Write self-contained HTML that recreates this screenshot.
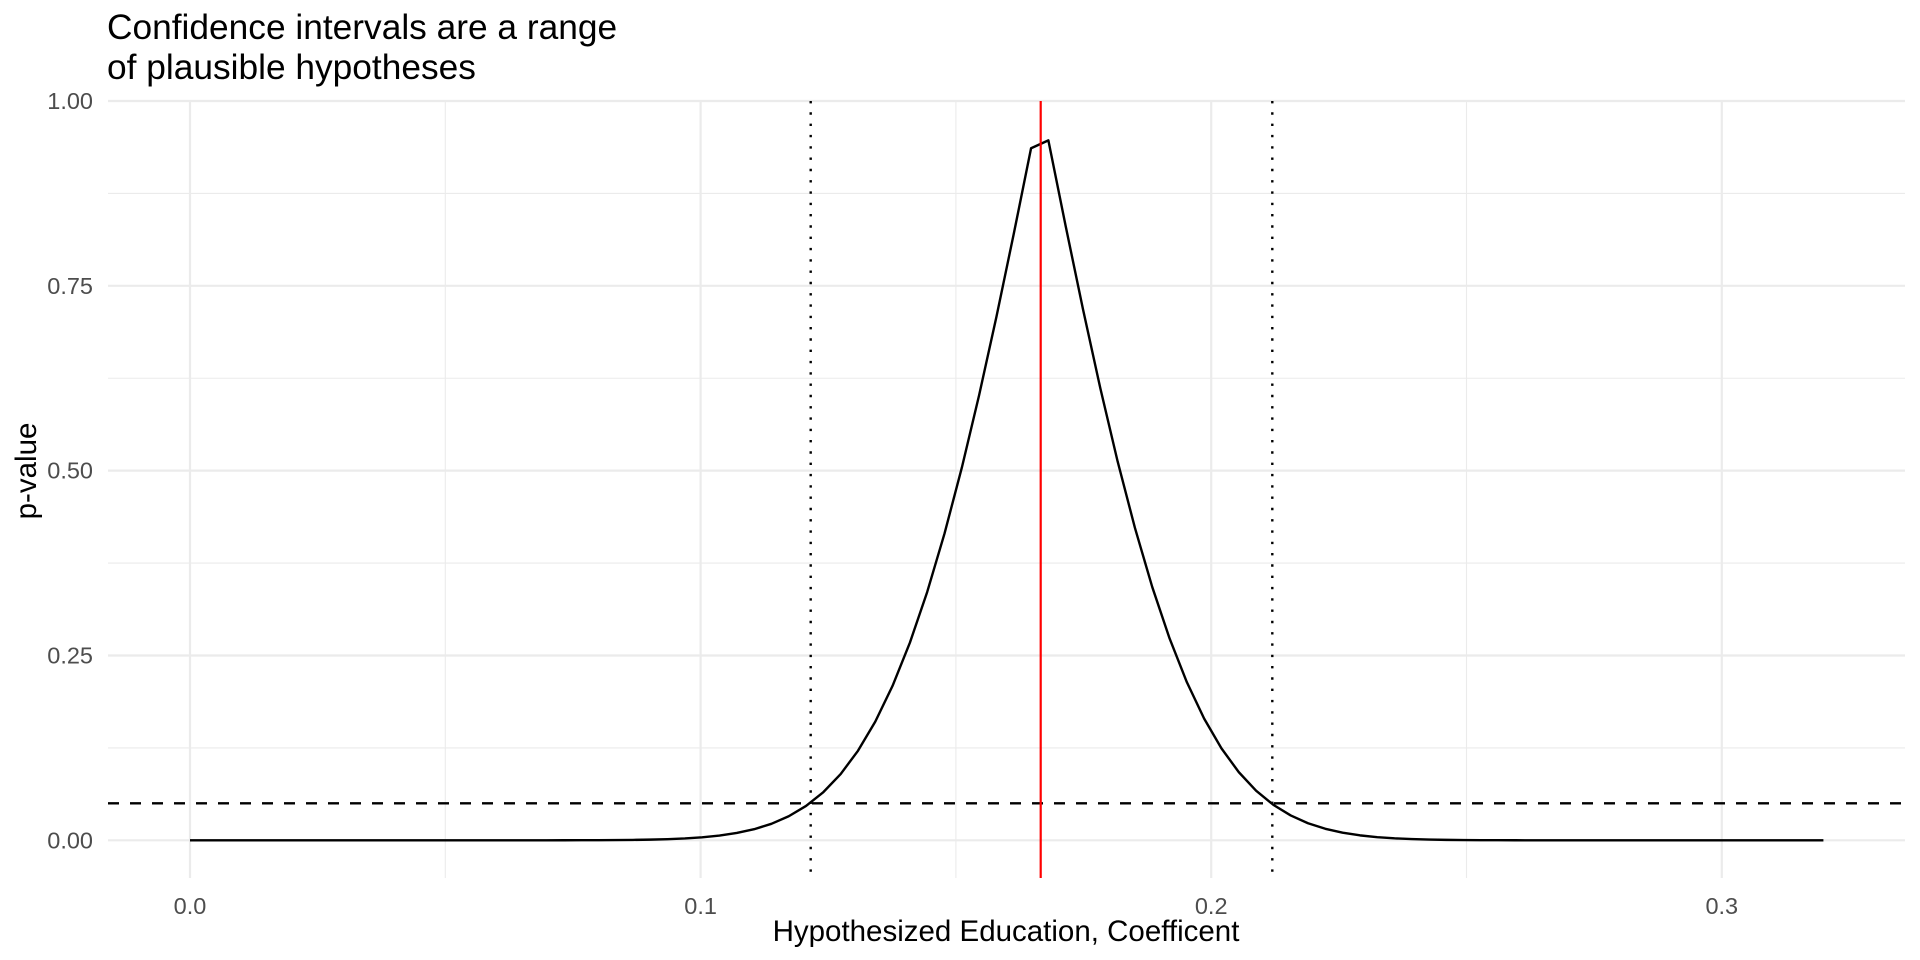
<!DOCTYPE html>
<html><head><meta charset="utf-8"><style>
html,body{margin:0;padding:0;background:#fff;}
svg{display:block;font-family:"Liberation Sans",Arial,sans-serif;}
</style></head><body>
<svg id="s" width="1920" height="960" viewBox="0 0 1920 960" xmlns="http://www.w3.org/2000/svg">
<g id="grid"></g>
<text x="107" y="39" font-size="35.3" fill="#000">Confidence intervals are a range</text>
<text x="107" y="79" font-size="35.3" fill="#000">of plausible hypotheses</text>
<g font-size="23.5" fill="#4d4d4d" text-anchor="end">
<text x="93" y="109">1.00</text>
<text x="93" y="293.8">0.75</text>
<text x="93" y="478.7">0.50</text>
<text x="93" y="663.5">0.25</text>
<text x="93" y="848.3">0.00</text>
</g>
<g font-size="23.5" fill="#4d4d4d" text-anchor="middle">
<text x="190" y="914">0.0</text>
<text x="700.6" y="914">0.1</text>
<text x="1211.2" y="914">0.2</text>
<text x="1721.8" y="914">0.3</text>
</g>
<text x="1006" y="941" font-size="29.5" text-anchor="middle" fill="#000">Hypothesized Education, Coefficent</text>
<text transform="translate(36,471) rotate(-90)" font-size="29.5" text-anchor="middle" fill="#000">p-value</text>
<g id="data"></g>
</svg>
<script>
var NS="http://www.w3.org/2000/svg";
function X(v){return 190+5106*v;}
function Y(p){return 840.3-739.3*p;}
function el(par,tag,attrs){var e=document.createElementNS(NS,tag);for(var k in attrs)e.setAttribute(k,attrs[k]);par.appendChild(e);return e;}
var g=document.getElementById('grid');
var L=108,R=1905,T=101,B=878;
[0.125,0.375,0.625,0.875].forEach(function(p){el(g,'line',{x1:L,x2:R,y1:Y(p),y2:Y(p),stroke:'#ebebeb','stroke-width':1.1});});
[0.05,0.15,0.25].forEach(function(v){el(g,'line',{x1:X(v),x2:X(v),y1:T,y2:B,stroke:'#ebebeb','stroke-width':1.1});});
[0,0.25,0.5,0.75,1].forEach(function(p){el(g,'line',{x1:L,x2:R,y1:Y(p),y2:Y(p),stroke:'#ebebeb','stroke-width':2.2});});
[0,0.1,0.2,0.3].forEach(function(v){el(g,'line',{x1:X(v),x2:X(v),y1:T,y2:B,stroke:'#ebebeb','stroke-width':2.2});});
function Phi(z){var t=1/(1+0.2316419*Math.abs(z));var d=0.3989423*Math.exp(-z*z/2);var p=d*t*(0.3193815+t*(-0.3565638+t*(1.781478+t*(-1.821256+t*1.330274))));return z>0?1-p:p;}
var est=0.16657,se=0.02306;
function pv(x){return 2*(1-Phi(Math.abs(x-est)/se));}
var xs=[0];var step=0.00339;var start=0.16472;
var k0=Math.ceil(-start/step);
for(var k=k0;;k++){var x=start+k*step;if(x>0.3199)break;if(x>0.0005)xs.push(x);}
xs.push(0.3199);
var d='';xs.forEach(function(x,i){d+=(i?'L':'M')+X(x).toFixed(2)+','+Y(pv(x)).toFixed(2);});
var dg=document.getElementById('data');
el(dg,'line',{x1:L,x2:R,y1:Y(0.05),y2:Y(0.05),stroke:'#000','stroke-width':2.4,'stroke-dasharray':'11 11'});
el(dg,'line',{x1:810.7,x2:810.7,y1:T,y2:B,stroke:'#000','stroke-width':2.4,'stroke-dasharray':'2.4 8.9'});
el(dg,'line',{x1:1272.3,x2:1272.3,y1:T,y2:B,stroke:'#000','stroke-width':2.4,'stroke-dasharray':'2.4 8.9'});
el(dg,'path',{d:d,fill:'none',stroke:'#000','stroke-width':2.4,'stroke-linejoin':'round'});
el(dg,'line',{x1:1040.7,x2:1040.7,y1:T,y2:B,stroke:'#ff0000','stroke-width':2.2});
</script>
</body></html>
